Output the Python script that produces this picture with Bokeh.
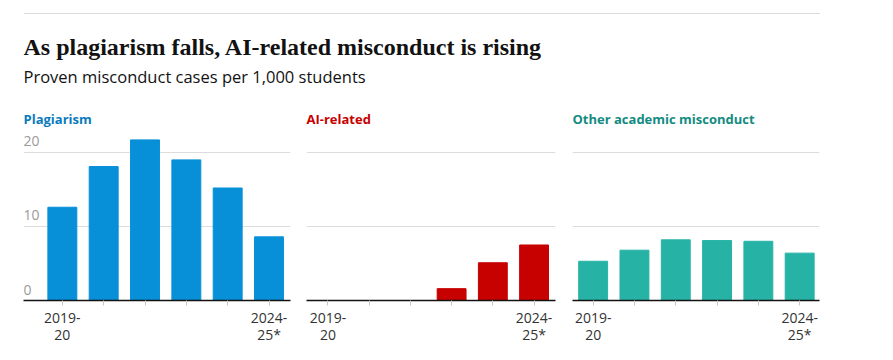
from bokeh.plotting import figure
from bokeh.models import Range1d, FixedTicker, Label, Span
from bokeh.layouts import column, row
from bokeh.embed import file_html
from bokeh.resources import INLINE
from bokeh.core.properties import value

# ---- data ----
years = ["2019-20", "2020-21", "2021-22", "2022-23", "2023-24", "2024-25*"]
tick_labels = {0: "2019-\n20", 5: "2024-\n25*"}
plagiarism = [12.6, 18.1, 21.7, 19.0, 15.2, 8.6]
ai_related = [0, 0, 0, 1.6, 5.1, 7.5]
other_misconduct = [5.3, 6.8, 8.2, 8.1, 8.0, 6.4]
y_ticks = [0, 10, 20]
grid_ticks = [10, 20]

TITLE = "As plagiarism falls, AI-related misconduct is rising"
SUBTITLE = "Proven misconduct cases per 1,000 students"
PANEL_TITLES = ["Plagiarism", "AI-related", "Other academic misconduct"]

SANS = "Open Sans"
BAR_COLORS = ["#0790d8", "#c70000", "#26b3a6"]
TITLE_COLORS = ["#0a7bbd", "#c70000", "#138b81"]

# ---- header ----
header = figure(width=885, height=102, x_range=Range1d(23, 820), y_range=Range1d(102, 0),
                min_border_left=23, min_border_right=65, min_border_top=0, min_border_bottom=0,
                x_axis_location=None, y_axis_location=None,
                toolbar_location=None, output_backend="svg")
header.grid.visible = False
header.outline_line_color = None
header.add_layout(Span(location=13, dimension="width", line_color="#dcdcdc", line_width=1))
header.add_layout(Label(x=23, y=46, text=TITLE, text_font="Liberation Serif",
                        text_font_style="bold", text_font_size="24px",
                        text_color="#121212", text_baseline="alphabetic"))
header.add_layout(Label(x=23, y=76, text=SUBTITLE, text_font=SANS,
                        text_font_size="16.5px", text_color="#121212",
                        text_baseline="alphabetic"))


def make_panel(title, title_color, vals, color, x0, x1, width, ml, mr, show_y):
    p = figure(width=width, height=250, x_range=Range1d(x0, x1), y_range=Range1d(0, 22.7),
               min_border_left=ml, min_border_right=mr, min_border_top=30, min_border_bottom=52,
               y_axis_location=None, toolbar_location=None, output_backend="svg",
               title=title)
    p.title.align = "left"
    p.title.vertical_align = "bottom"
    p.title.standoff = 10
    p.title.offset = 0
    p.title.text_font = SANS
    p.title.text_font_size = "13px"
    p.title.text_font_style = "bold"
    p.title.text_color = title_color
    p.outline_line_color = None
    p.xgrid.visible = False
    p.ygrid.ticker = FixedTicker(ticks=grid_ticks)
    p.ygrid.grid_line_color = "#dcdcdc"
    p.ygrid.grid_line_width = 1
    xs = list(range(len(years)))
    p.vbar(x=xs, top=vals, width=0.7, color=color)
    ax = p.xaxis[0]
    ax.ticker = FixedTicker(ticks=xs)
    ax.major_label_overrides = {i: tick_labels.get(i, "") for i in xs}
    ax.axis_line_color = "#121212"
    ax.axis_line_width = 1.5
    ax.major_tick_in = 0
    ax.major_tick_out = 5
    ax.major_tick_line_color = "#c8c8c8"
    ax.minor_tick_line_color = None
    ax.major_label_text_font = SANS
    ax.major_label_text_font_size = "14px"
    ax.major_label_text_color = "#333333"
    ax.major_label_text_line_height = 0.9
    ax.major_label_standoff = 2
    if show_y:
        p.text(x=[x0] * len(y_ticks), y=y_ticks, text=[str(t) for t in y_ticks],
               text_font=value(SANS), text_font_size="14px", text_color="#9a9a9a",
               text_baseline="alphabetic", y_offset=-11)
    return p


p1 = make_panel(PANEL_TITLES[0], TITLE_COLORS[0], plagiarism, BAR_COLORS[0],
                -0.94, 5.52, 298, 23, 8, True)
p2 = make_panel(PANEL_TITLES[1], TITLE_COLORS[1], ai_related, BAR_COLORS[1],
                -0.52, 5.52, 265, 8, 8, False)
p3 = make_panel(PANEL_TITLES[2], TITLE_COLORS[2], other_misconduct, BAR_COLORS[2],
                -0.50, 5.48, 322, 9, 66, False)

layout = column(header, row(p1, p2, p3))

open("out.html", "w").write(file_html(layout, INLINE))
